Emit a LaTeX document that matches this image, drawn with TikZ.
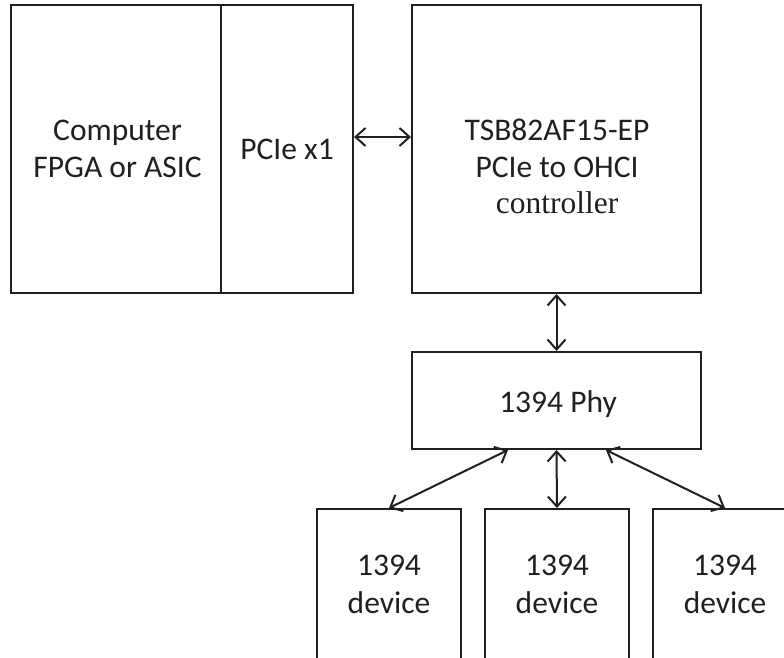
\documentclass[tikz,border=0pt]{standalone}
\usepackage{fontspec}
\setmainfont{Carlito}
\newfontfamily\serifctl{Liberation Serif}
\usetikzlibrary{arrows.meta,calc}
\definecolor{ink}{HTML}{231F20}
\tikzset{
  box/.style={draw=ink, line width=2pt, rectangle, inner sep=0pt},
  txt/.style={text=ink, anchor=base, inner sep=0pt, font=\fontsize{31.5}{37}\selectfont},
  arr/.style={draw=ink, line width=2pt, {Straight Barb[length=10pt,width=18pt]}-{Straight Barb[length=10pt,width=18pt]}}
}
\begin{document}
\begin{tikzpicture}[x=1pt,y=-1pt]
\useasboundingbox (0,0) rectangle (784,658);
\fill[white] (0,0) rectangle (784,658);
\clip (0,0) rectangle (784,658);
% boxes
\node[box, minimum width=342pt, minimum height=288pt] (host) at (182,149) {};
\node[box, minimum width=289pt, minimum height=288pt] (tsb) at (556.5,149) {};
\node[box, minimum width=289pt, minimum height=97pt] (phy) at (556.5,400.5) {};
\node[box, minimum width=144pt, minimum height=250pt] (dev1) at (389,634) {};
\node[box, minimum width=144pt, minimum height=250pt] (dev2) at (557,634) {};
\node[box, minimum width=144pt, minimum height=250pt] (dev3) at (725,634) {};
\coordinate (divtop) at (221,5);
\coordinate (divbot) at (221,293);
\draw[draw=ink, line width=2pt] (divtop) -- (divbot);
% texts
\node[txt] (t1) at (117.5,140) {Computer};
\node[txt] (t2) at (117.5,177) {FPGA or ASIC};
\node[txt] (t3) at (287,159) {PCIe x1};
\node[txt] (t4) at (557,140) {TSB82AF15-EP};
\node[txt] (t5) at (557,177) {PCIe to OHCI};
\node[txt, font=\fontsize{31.5}{37}\serifctl] (t6) at (557,213) {controller};
\node[txt] (t7) at (558,412) {1394 Phy};
\node[txt] (d1a) at (389,575) {1394};
\node[txt] (d1b) at (389,613) {device};
\node[txt] (d2a) at (557,575) {1394};
\node[txt] (d2b) at (557,613) {device};
\node[txt] (d3a) at (725,575) {1394};
\node[txt] (d3b) at (725,613) {device};
% connectors
\draw[arr] ($(host.east)+(0,-12)$) -- ($(tsb.west)+(0,-12)$);
\draw[arr] (tsb.south) -- (phy.north);
\draw[arr] ($(phy.south)+(-48.5,0)$) -- (dev1.north);
\draw[arr] (phy.south) -- (dev2.north);
\draw[arr] ($(phy.south)+(49.5,0)$) -- (dev3.north);
\end{tikzpicture}
\end{document}
